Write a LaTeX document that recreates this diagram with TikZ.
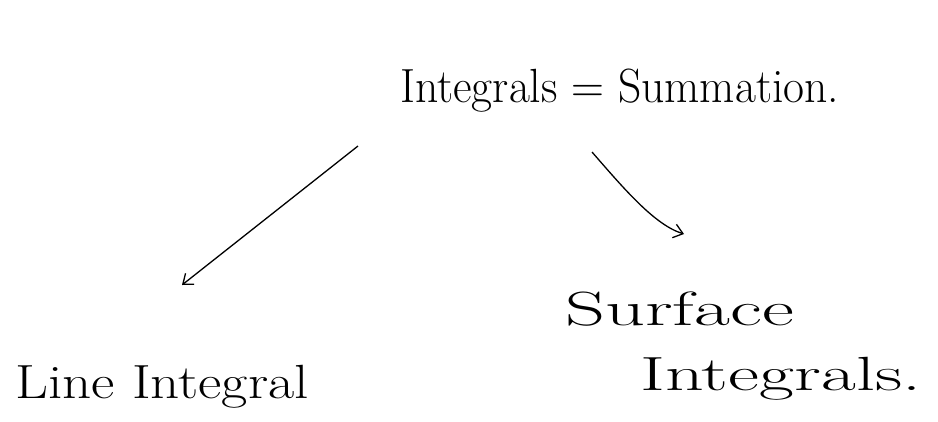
\documentclass[tikz,border=0pt]{standalone}
\usetikzlibrary{arrows.meta}
\begin{document}
\begin{tikzpicture}[x=1pt,y=-1pt,
  hand/.style={font=\fontsize{48}{52}\selectfont, inner sep=0pt, anchor=base west},
  conn/.style={line width=1.3pt, -{Straight Barb[length=9pt,width=14pt]}}]
\useasboundingbox (0,0) rectangle (938,421);
\node[hand] (top) at (400,102) {\scalebox{0.95}[1]{Integrals = Summation.}};
\node[hand] (line) at (15,398) {\scalebox{1.19}[1]{Line Integral}};
\node[hand] (surf) at (565,325) {\scalebox{1.63}[1]{Surface}};
\node[hand] (surf2) at (640,390) {\scalebox{1.58}[1]{Integrals.}};
\coordinate (a1) at (358,146);
\coordinate (b1) at (182,285);
\coordinate (a2) at (592,152);
\coordinate (b2) at (684,234);
\draw[conn] (a1) -- (b1);
\draw[conn] (a2) .. controls (625,190) and (655,225) .. (b2);
\end{tikzpicture}
\end{document}
